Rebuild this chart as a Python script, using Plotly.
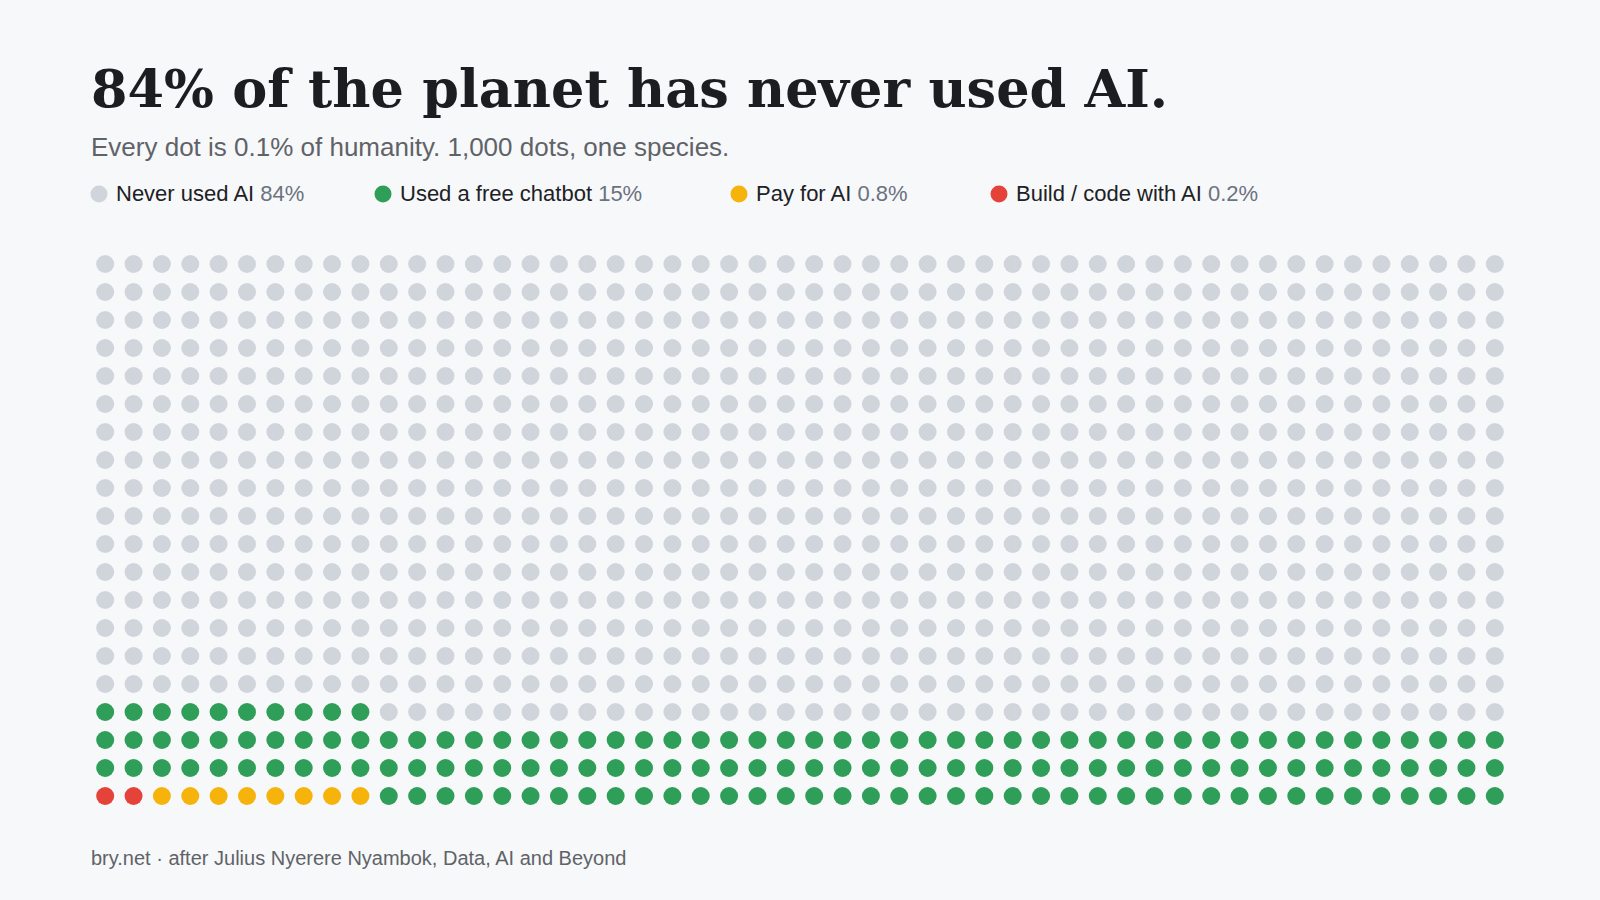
import plotly.graph_objects as go

# ---- data ----
categories = ["Build / code with AI", "Pay for AI", "Used a free chatbot", "Never used AI"]
dot_counts = [2, 8, 150, 840]          # dots of 0.1% each, in fill order
pct_labels = ["0.2%", "0.8%", "15%", "84%"]
colors = ["#e5433a", "#f5b30b", "#2e9e58", "#d0d5dc"]
legend_order = ["Never used AI", "Used a free chatbot", "Pay for AI", "Build / code with AI"]
n_cols = 50
n_rows = 20

W, H = 1600, 900
ML, MR, MT, MB = 91, 91, 250, 90
PW, PH = W - ML - MR, H - MT - MB


def px(x):
    return (x - ML) / PW


def py(y):
    return (H - MB - y) / PH


fig = go.Figure()
start = 0
for cat, n, col in zip(categories, dot_counts, colors):
    idx = list(range(start, start + n))
    start += n
    fig.add_trace(go.Scatter(
        x=[i % n_cols for i in idx],
        y=[i // n_cols for i in idx],
        mode="markers",
        marker=dict(size=18, color=col, line=dict(width=0)),
        name=cat,
        hoverinfo="name",
        showlegend=False,
    ))

annotations = []
shapes = []
# title / subtitle / footer
annotations.append(dict(
    text="84% of the planet has never used AI.", x=px(89), y=py(89),
    xref="paper", yref="paper", xanchor="left", yanchor="middle", showarrow=False,
    font=dict(family="DejaVu Serif", size=52.5, color="#1c1d21", weight="bold")))
annotations.append(dict(
    text="Every dot is 0.1% of humanity. 1,000 dots, one species.", x=px(89), y=py(147),
    xref="paper", yref="paper", xanchor="left", yanchor="middle", showarrow=False,
    font=dict(family="Liberation Sans", size=26, color="#5f6368")))
annotations.append(dict(
    text="bry.net · after Julius Nyerere Nyambok, Data, AI and Beyond", x=px(89), y=py(858),
    xref="paper", yref="paper", xanchor="left", yanchor="middle", showarrow=False,
    font=dict(family="Liberation Sans", size=20, color="#5f6368")))

# legend
marker_x = [99, 383, 739, 999]
leg_y = 194
for lab, mx in zip(legend_order, marker_x):
    i = categories.index(lab)
    shapes.append(dict(
        type="circle", xref="paper", yref="paper",
        xsizemode="pixel", ysizemode="pixel",
        xanchor=px(mx), yanchor=py(leg_y),
        x0=-8.5, x1=8.5, y0=-8.5, y1=8.5,
        fillcolor=colors[i], line=dict(width=0)))
    annotations.append(dict(
        text=f"<span style='color:#202124'>{lab}</span> <span style='color:#6b7280'>{pct_labels[i]}</span>",
        x=px(mx + 15), y=py(leg_y), xref="paper", yref="paper",
        xanchor="left", yanchor="middle", showarrow=False,
        font=dict(family="Liberation Sans", size=22, color="#202124")))

fig.update_layout(
    width=W, height=H,
    margin=dict(l=ML, r=MR, t=MT, b=MB),
    paper_bgcolor="#f7f8fa", plot_bgcolor="#f7f8fa",
    xaxis=dict(range=[-0.5, n_cols - 0.5], visible=False, fixedrange=True),
    yaxis=dict(range=[-0.5, n_rows - 0.5], visible=False, fixedrange=True),
    annotations=annotations, shapes=shapes,
    showlegend=False,
)

fig.write_html("out.html", config={"displayModeBar": False})
